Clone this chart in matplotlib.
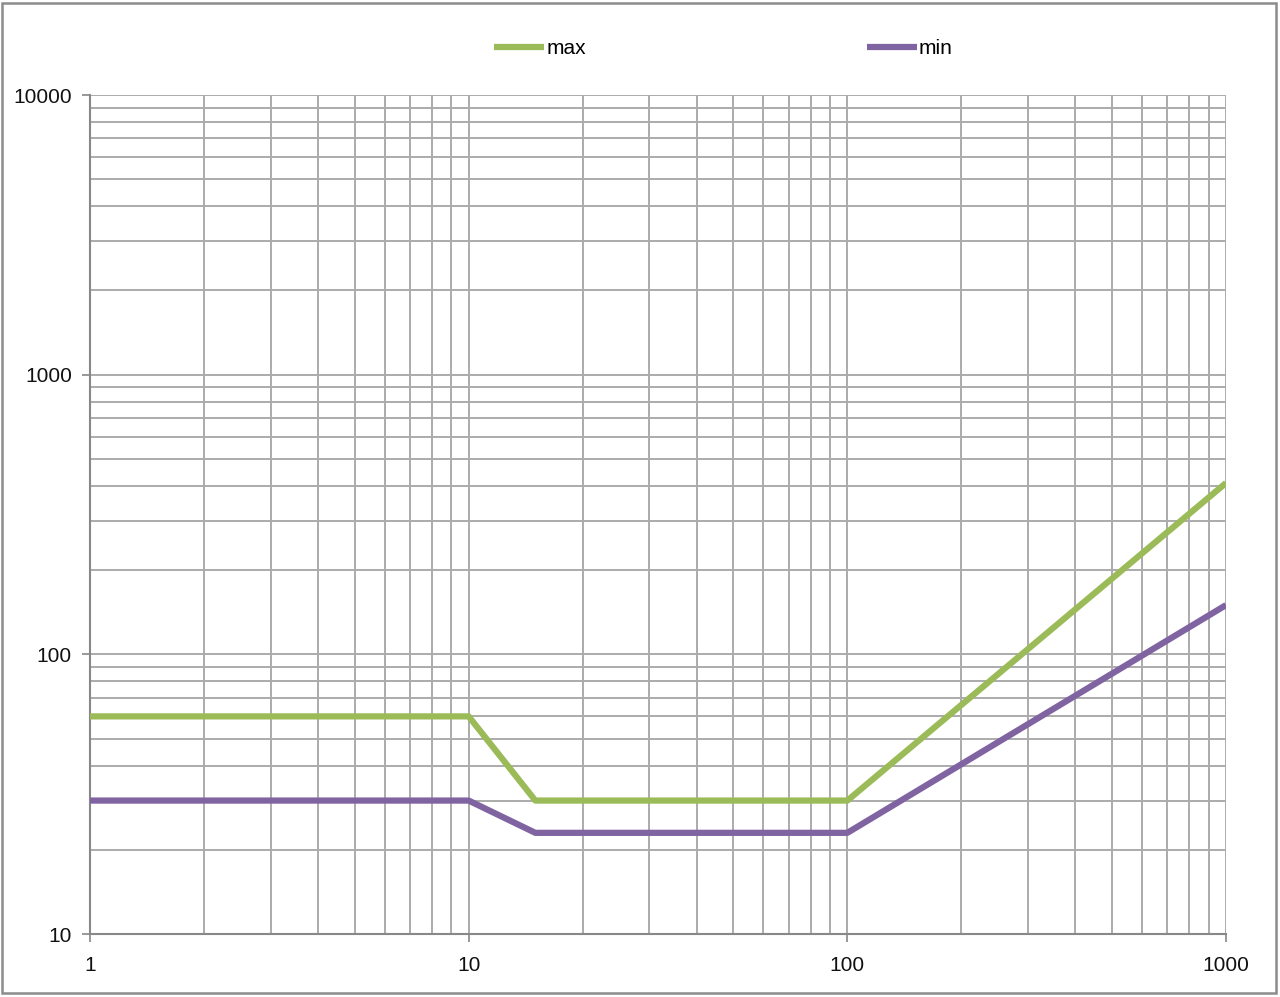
import matplotlib
matplotlib.use("Agg")
import matplotlib.pyplot as plt
from matplotlib.patches import Rectangle
from matplotlib.ticker import FixedLocator, LogLocator, NullFormatter

# data (log-log)
x_pts = [1, 10, 15, 100, 1000]
max_vals = [60, 60, 30, 30, 410]
min_vals = [30, 30, 23, 23, 150]

x_ticks = [1, 10, 100, 1000]
y_ticks = [10, 100, 1000, 10000]

GREEN = "#9bbb59"
PURPLE = "#8064a2"
GRID = "#ababab"

plt.rcParams["font.family"] = ["Liberation Sans", "DejaVu Sans"]

fig = plt.figure(figsize=(12.8, 9.97), dpi=100)
ax = fig.add_axes([90 / 1280, 63 / 997, (1226 - 90) / 1280, (934 - 95) / 997])

ax.plot(x_pts, max_vals, color=GREEN, lw=4.5, label="max", solid_capstyle="butt", zorder=3)
ax.plot(x_pts, min_vals, color=PURPLE, lw=4.5, label="min", solid_capstyle="butt", zorder=3)

ax.set_xscale("log")
ax.set_yscale("log")
ax.set_xlim(1, 1000)
ax.set_ylim(10, 10000)

ax.xaxis.set_major_locator(FixedLocator(x_ticks))
ax.yaxis.set_major_locator(FixedLocator(y_ticks))
ax.set_xticklabels([str(v) for v in x_ticks])
ax.set_yticklabels([str(v) for v in y_ticks])
ax.xaxis.set_minor_locator(LogLocator(base=10, subs=range(2, 10)))
ax.yaxis.set_minor_locator(LogLocator(base=10, subs=range(2, 10)))
ax.xaxis.set_minor_formatter(NullFormatter())
ax.yaxis.set_minor_formatter(NullFormatter())

ax.grid(True, which="both", color=GRID, lw=1.4, zorder=0)
ax.set_axisbelow(True)
ax.tick_params(which="minor", length=0)
ax.tick_params(which="major", length=6, width=1.2, color="#888888",
               labelsize=15, pad=7, labelcolor="#111111")
ax.tick_params(axis="x", pad=10)

for s in ("top", "right"):
    ax.spines[s].set_visible(False)
for s in ("left", "bottom"):
    ax.spines[s].set_color("#888888")
    ax.spines[s].set_linewidth(1.5)

leg = fig.legend(loc="center left", bbox_to_anchor=(494 / 1280, 1 - 49 / 997),
                 ncol=2, frameon=False, fontsize=15, handlelength=2.4,
                 handletextpad=0.1, columnspacing=13.5, borderaxespad=0,
                 borderpad=0)

# outer chart border
fig.patches.append(Rectangle((2 / 1280, 4 / 997), 1274 / 1280, 990 / 997,
                             transform=fig.transFigure, fill=False,
                             edgecolor="#8c8c8c", lw=1.8))

fig.savefig("out.png", dpi=100)
